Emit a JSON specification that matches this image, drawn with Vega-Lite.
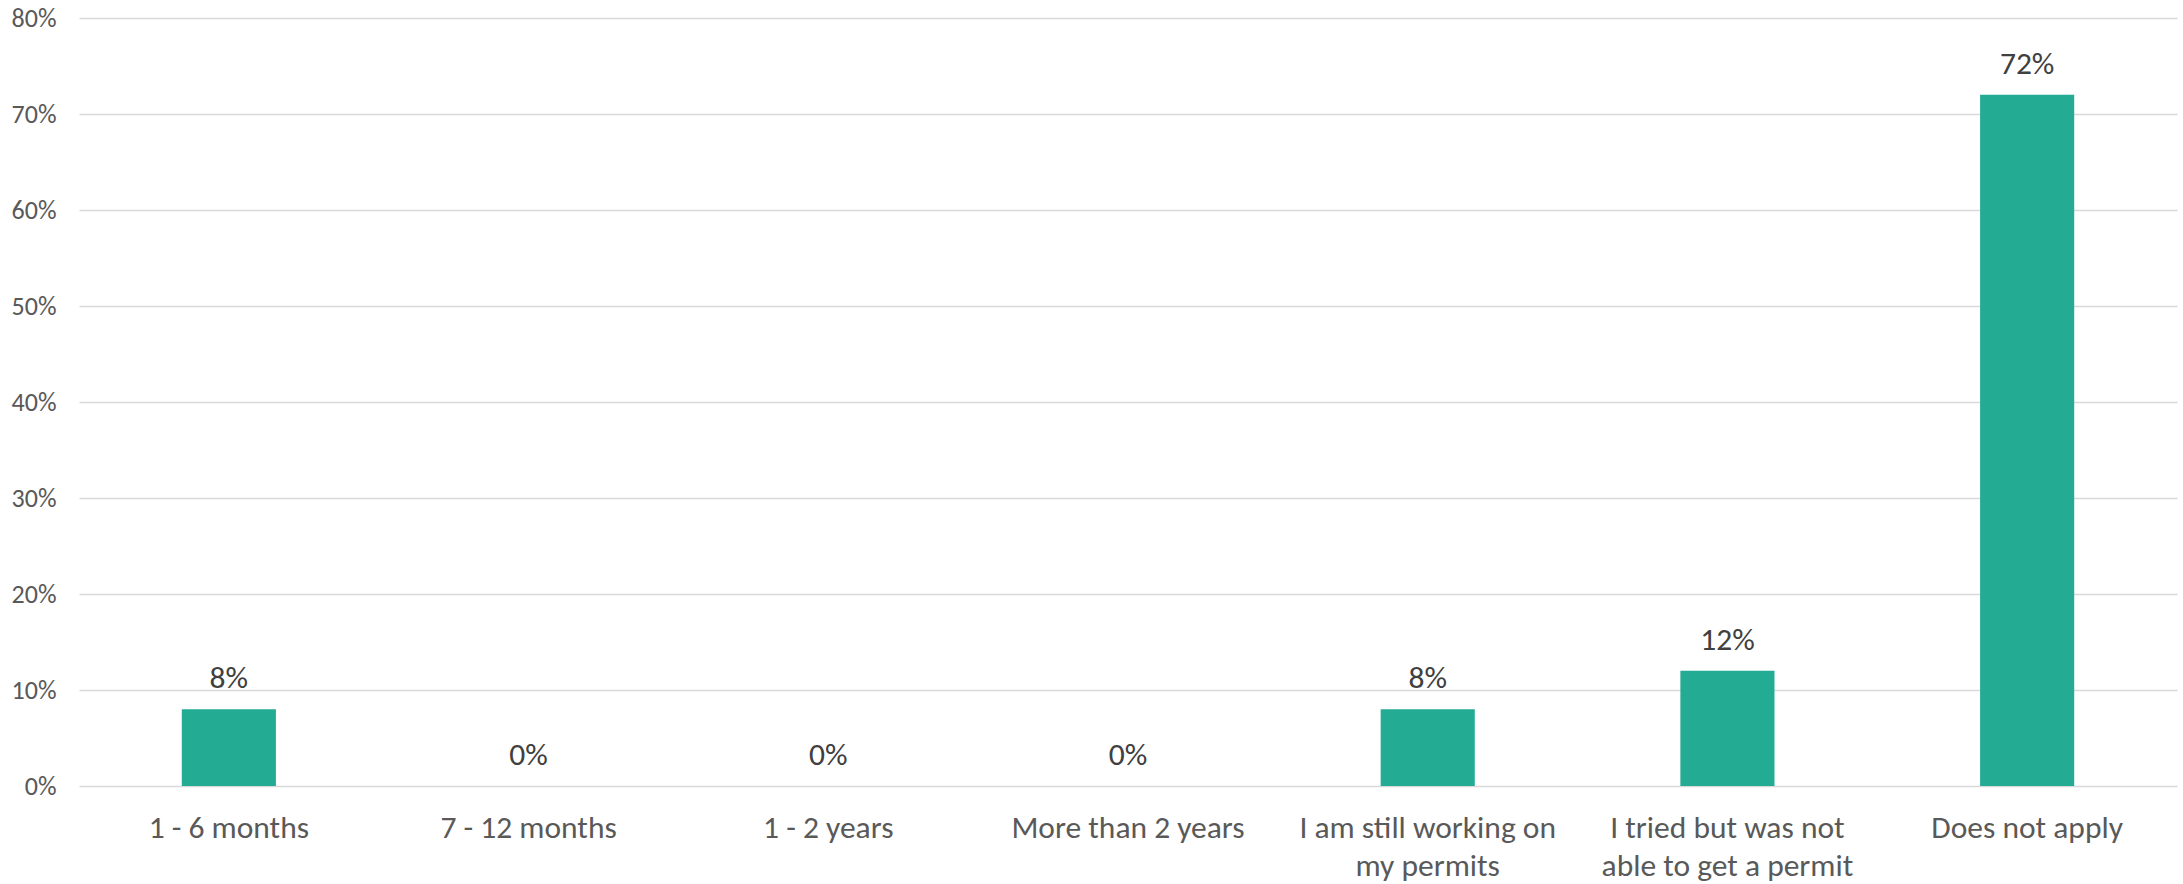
{
  "$schema": "https://vega.github.io/schema/vega-lite/v6.json",
  "autosize": {"type": "none"},
  "width": 2098,
  "height": 768,
  "padding": {"left": 79, "top": 18, "right": 6, "bottom": 98},
  "background": "white",
  "config": {
    "view": {"stroke": null},
    "font": "Carlito, Lato, sans-serif"
  },
  "data": {
    "values": [
      {"category": "1 - 6 months", "value": 0.08, "label": "8%"},
      {"category": "7 - 12 months", "value": 0.0, "label": "0%"},
      {"category": "1 - 2 years", "value": 0.0, "label": "0%"},
      {"category": "More than 2 years", "value": 0.0, "label": "0%"},
      {"category": "I am still working on|my permits", "value": 0.08, "label": "8%"},
      {"category": "I tried but was not|able to get a permit", "value": 0.12, "label": "12%"},
      {"category": "Does not apply", "value": 0.72, "label": "72%"}
    ]
  },
  "encoding": {
    "x": {
      "field": "category",
      "type": "nominal",
      "sort": null,
      "scale": {"paddingInner": 0.686, "paddingOuter": 0.343},
      "axis": {
        "title": null,
        "labelAngle": 0,
        "labelExpr": "split(datum.label, '|')",
        "labelFont": "Carlito, Lato, sans-serif",
        "labelFontSize": 31.5,
        "labelColor": "#595959",
        "labelLineHeight": 38,
        "labelPadding": 26,
        "labelBaseline": "top",
        "labelLimit": 400,
        "ticks": false,
        "domain": false,
        "grid": false
      }
    },
    "y": {
      "field": "value",
      "type": "quantitative",
      "scale": {"domain": [0, 0.8], "nice": false},
      "axis": {
        "title": null,
        "format": ".0%",
        "values": [0, 0.1, 0.2, 0.3, 0.4, 0.5, 0.6, 0.7, 0.8],
        "labelFont": "Carlito, Lato, sans-serif",
        "labelFontSize": 26,
        "labelColor": "#595959",
        "labelPadding": 23,
        "ticks": false,
        "domain": false,
        "grid": true,
        "gridColor": "#d9d9d9",
        "gridWidth": 1.4
      }
    }
  },
  "layer": [
    {
      "mark": {"type": "bar", "color": "#23AC93"}
    },
    {
      "mark": {
        "type": "text",
        "baseline": "alphabetic",
        "dy": -21,
        "fontSize": 31.5,
        "color": "#404040",
        "font": "Carlito, Lato, sans-serif"
      },
      "encoding": {"text": {"field": "label"}}
    }
  ]
}
